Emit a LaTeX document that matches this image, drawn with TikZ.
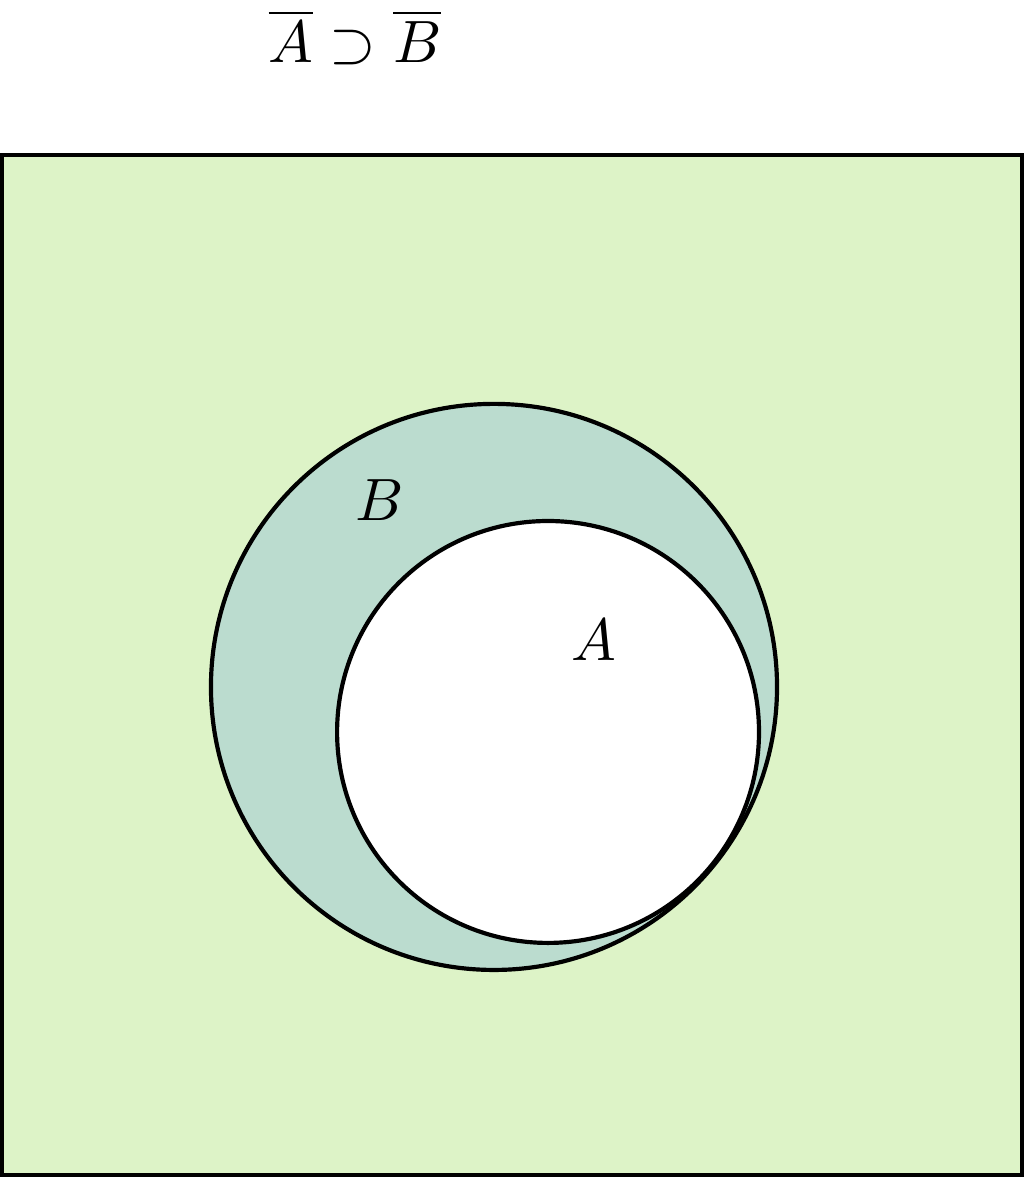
\documentclass[tikz,border=0pt]{standalone}
\usepackage{xcolor}
\usepackage{tikz}
\usetikzlibrary{positioning}
\definecolor{meadow}{HTML}{DDF3C7}
\definecolor{seafoam}{HTML}{BBDCCF}
\tikzset{
  universe/.style={draw=black, fill=meadow, line width=0.7pt},
  setcircle/.style={circle, draw=black, fill=#1, line width=0.7pt,
    inner sep=0pt},
  setcircle/.default=white,
  setlabel/.style={inner sep=1pt},
}
\begin{document}
\begin{tikzpicture}
    \useasboundingbox (-0.012,-0.012) rectangle (6.012,6.912);
    \draw[universe] (0,0) rectangle (6,6);
    \node[setcircle=seafoam, minimum size=3.33cm] (setB) at (2.894,2.871) {};
    \node[setcircle, minimum size=2.482cm] (setA) at (3.212,2.606) {};
    \node[setlabel] (labelB) at (2.224,3.97) {$B$};
    \node[setlabel] (labelA) at (3.482,3.147) {$A$};
    \node (title) at (2.076,6.694) {$\overline{A}\supset\overline{B}$};
\end{tikzpicture}
\end{document}
